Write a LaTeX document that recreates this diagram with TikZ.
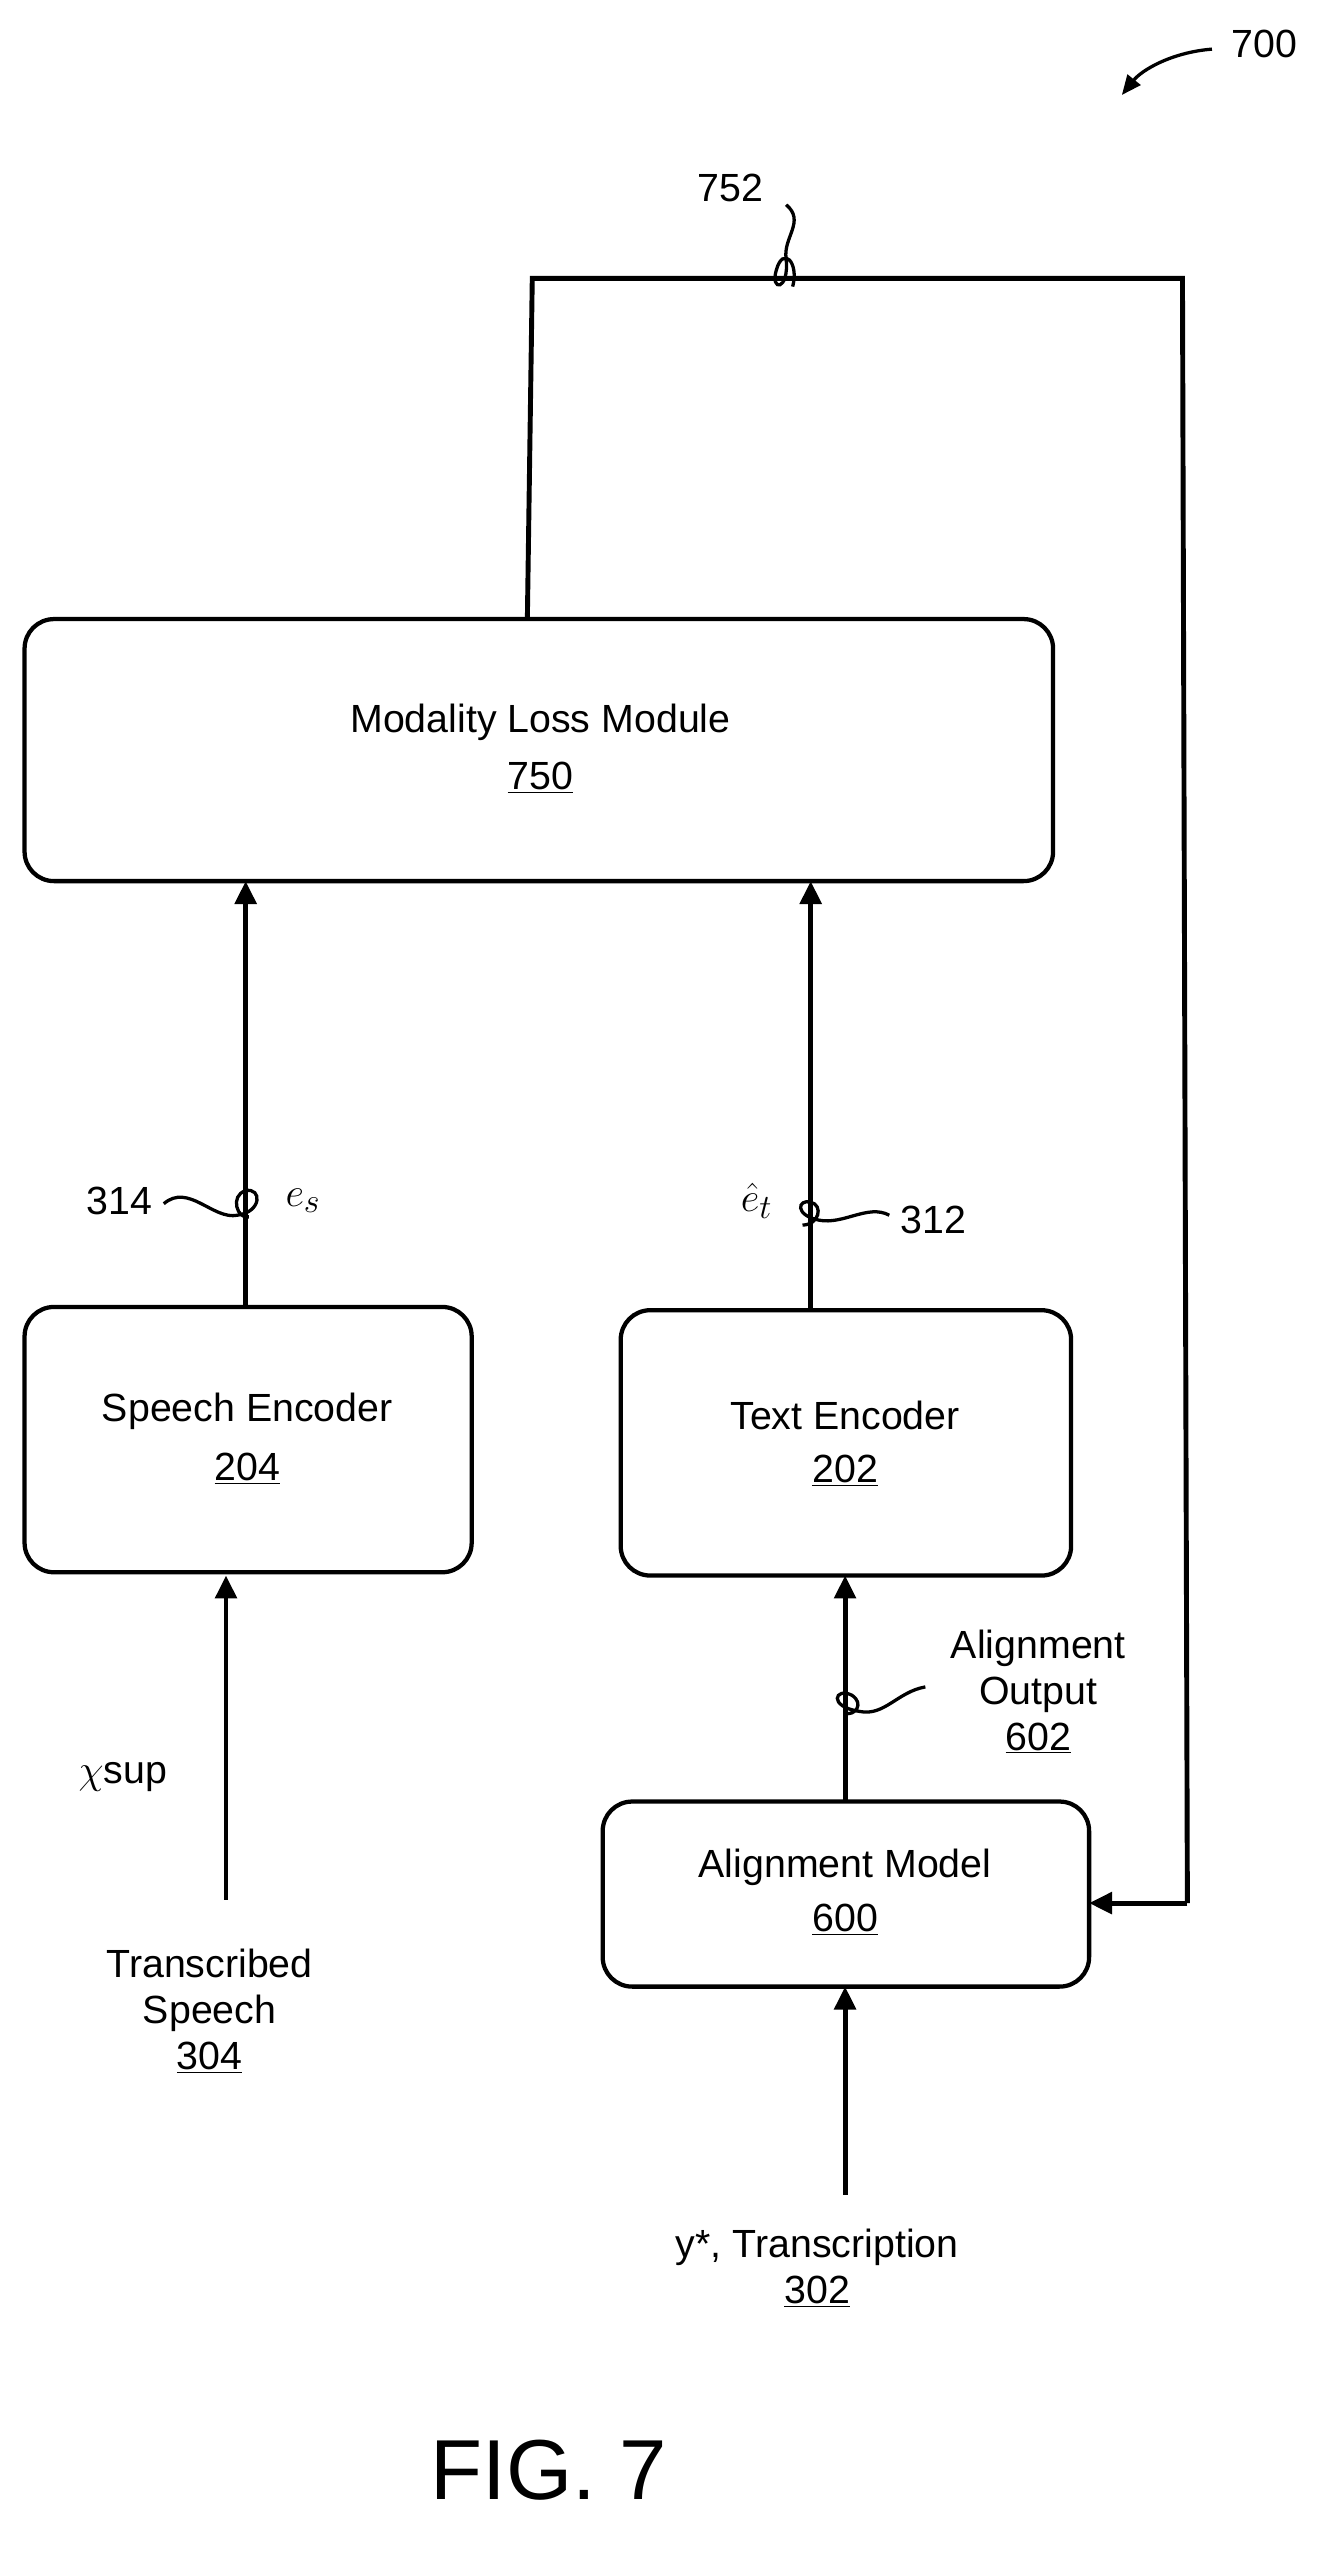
\documentclass[tikz,border=0pt]{standalone}
\usepackage{fontspec}
\setmainfont{Liberation Sans}
\usetikzlibrary{arrows.meta}
\begin{document}
\begin{tikzpicture}[x=1pt,y=-1pt,
  box/.style={draw,line width=2.6pt,rounded corners=18pt,inner sep=0},
  lbl/.style={font=\fontsize{24}{28}\selectfont,align=center},
  ar/.style={line width=3pt,-{Triangle[length=14pt,width=13pt]}},
  ln/.style={line width=3pt},
  sq/.style={line width=2pt}]
\useasboundingbox (0,0) rectangle (808,1568);
% boxes
\draw[box] (15,378) rectangle (643,538);
\node[lbl] (mlm) at (330,441) {Modality Loss Module};
\node[lbl] (n750) at (330,475) {\underline{750}};
\draw[box] (15,798) rectangle (288,960);
\node[lbl] (se) at (151,862) {Speech Encoder};
\node[lbl] (n204) at (151,897) {\underline{204}};
\draw[box] (379,800) rectangle (654,962);
\node[lbl] (te) at (516,864) {Text Encoder};
\node[lbl] (n202) at (516,898) {\underline{202}};
\draw[box] (368,1100) rectangle (665,1213);
\node[lbl] (am) at (516,1140) {Alignment Model};
\node[lbl] (n600) at (516,1172) {\underline{600}};
% coordinates
\coordinate (mlmS) at (150,538); \coordinate (seN) at (150,798);
\coordinate (mlmT) at (495,538); \coordinate (teN) at (495,800);
\coordinate (seS) at (138,962); \coordinate (xin) at (138,1160);
\coordinate (teS) at (516,962); \coordinate (amN) at (516,1100);
\coordinate (amS) at (516,1213); \coordinate (yin) at (516,1340);
\coordinate (mlmTop) at (322,378); \coordinate (c1) at (325,170);
\coordinate (c2) at (722,170); \coordinate (c3) at (725,1162);
\coordinate (amE) at (665,1162);
% arrows
\draw[ar] (seN) -- (mlmS);
\draw[ar] (teN) -- (mlmT);
\draw[ar] (xin) -- (seS);
\draw[ar] (amN) -- (teS);
\draw[ar] (yin) -- (amS);
\draw[ln,line join=miter] (mlmTop) -- (c1) -- (c2) -- (c3);
\draw[ar] (c3) -- (amE);
% labels
\node[lbl] (n700) at (772,27) {700};
\coordinate (a700s) at (740,30); \coordinate (a700e) at (685,58);
\draw[line width=2pt,-{Triangle[length=12pt,width=10pt]}] (a700s) .. controls (715,32) and (697,43) .. (a700e);
\node[lbl] (n752) at (446,115) {752};
\coordinate (q752) at (480,125);
\draw[sq] (q752) .. controls (492,135) and (478,145) .. (480,158) .. controls (482,178) and (470,178) .. (474,165) .. controls (478,150) and (488,160) .. (484,175);
\node[font=\fontsize{30}{34}\selectfont] (chi) at (75,1085) {$\chi$\fontsize{24}{28}\selectfont sup};
\node[lbl] (ts) at (128,1228) {Transcribed\\Speech\\\underline{304}};
\node[lbl] (ao) at (634,1033) {Alignment\\Output\\\underline{602}};
\coordinate (qao) at (565,1030);
\draw[sq] (qao) .. controls (548,1033) and (540,1048) .. (525,1045) .. controls (505,1042) and (510,1030) .. (520,1035) .. controls (528,1040) and (522,1048) .. (516,1046);
\node[lbl] (yt) at (499,1385) {y*, Transcription\\\underline{302}};
\node[font=\fontsize{28}{32}\selectfont] (es) at (185,733) {$e_s$};
\node[lbl] (n314) at (73,733) {314};
\coordinate (q314) at (100,735);
\draw[sq] (q314) .. controls (115,722) and (130,745) .. (145,742) .. controls (160,740) and (160,725) .. (150,727) .. controls (140,730) and (145,745) .. (152,743);
\node[font=\fontsize{28}{32}\selectfont] (et) at (462,733) {$\hat e_t$};
\node[lbl] (n312) at (570,745) {312};
\coordinate (q312) at (543,742);
\draw[sq] (q312) .. controls (530,735) and (515,748) .. (500,745) .. controls (485,742) and (487,732) .. (495,734) .. controls (503,736) and (500,748) .. (490,748);
\node[font=\fontsize{52}{56}\selectfont] (fig) at (335,1508) {FIG. 7};
\end{tikzpicture}
\end{document}
